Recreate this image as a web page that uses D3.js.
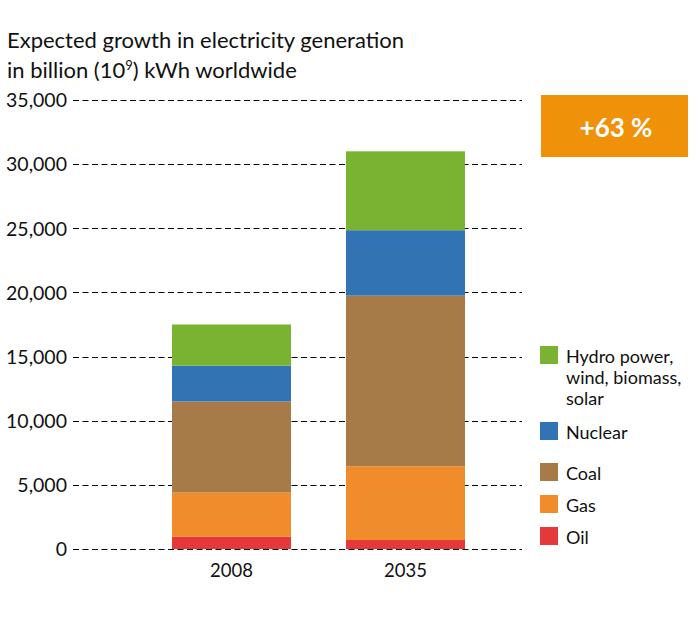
<!DOCTYPE html>
<html>
<head>
<meta charset="utf-8">
<script src="https://cdn.jsdelivr.net/npm/d3@7"></script>
<style>
  html, body { margin: 0; padding: 0; background: #fff; }
  svg { display: block; font-family: "Lato", "Open Sans", sans-serif; }
</style>
</head>
<body>
<svg id="chart" width="700" height="635"></svg>
<script>
// ---- data ----
const years = ["2008", "2035"];
const sources = ["Oil", "Gas", "Coal", "Nuclear", "Renewables"];
const oil        = [950, 700];
const gas        = [3450, 5750];
const coal       = [7100, 13300];
const nuclear    = [2800, 5100];
const renewables = [3200, 6150];
const yTicks = [0, 5000, 10000, 15000, 20000, 25000, 30000, 35000];
const legendLabels = [
  ["Hydro power,", "wind, biomass,", "solar"],
  ["Nuclear"],
  ["Coal"],
  ["Gas"],
  ["Oil"]
];
const colors = {
  Oil: "#E5383A",
  Gas: "#F08C2B",
  Coal: "#A67B48",
  Nuclear: "#3273B3",
  Renewables: "#7AB332"
};
const badgeText = "+63 %";

// ---- build table ----
const table = years.map((y, i) => ({
  year: y,
  Oil: oil[i], Gas: gas[i], Coal: coal[i], Nuclear: nuclear[i], Renewables: renewables[i]
}));
const stacked = d3.stack().keys(sources)(table);

const svg = d3.select("#chart");

// scales
const y = d3.scaleLinear().domain([0, 35000]).range([549, 100]);
const x = d3.scaleBand().domain(years).range([73, 564]).paddingInner(0.316).paddingOuter(0.569);

// title
const title = svg.append("text").attr("x", 7).attr("y", 48)
  .attr("font-size", 22).attr("fill", "#111");
title.append("tspan").text("Expected growth in electricity generation");
const t2 = svg.append("text").attr("x", 7).attr("y", 78)
  .attr("font-size", 22).attr("fill", "#111");
t2.append("tspan").text("in billion (10");
t2.append("tspan").text("9").attr("font-size", 13).attr("dy", -8);
t2.append("tspan").text(") kWh worldwide").attr("dy", 8);

// y axis labels
const yAxis = d3.axisLeft(y).tickValues(yTicks).tickSize(0).tickPadding(0)
  .tickFormat(d3.format(","));
const gAxis = svg.append("g").attr("transform", "translate(67,0)").call(yAxis);
gAxis.select(".domain").remove();
gAxis.selectAll("text").attr("font-size", 19.5).attr("fill", "#111")
  .attr("font-family", "Lato, sans-serif").attr("dy", "0.35em");

// grid lines
svg.append("g").selectAll("line").data(yTicks).join("line")
  .attr("x1", 73).attr("x2", 522)
  .attr("y1", d => Math.round(y(d)) + 0.5).attr("y2", d => Math.round(y(d)) + 0.5)
  .attr("stroke", "#000").attr("stroke-width", 1).attr("stroke-dasharray", "6,3.5");

// bars
svg.append("g").selectAll("g").data(stacked).join("g")
  .attr("fill", d => colors[d.key])
  .selectAll("rect").data(d => d).join("rect")
  .attr("x", d => x(d.data.year))
  .attr("width", x.bandwidth())
  .attr("y", d => y(d[1]))
  .attr("height", d => y(d[0]) - y(d[1]));

// x labels
const xAxis = d3.axisBottom(x).tickSize(0).tickPadding(0);
const gx = svg.append("g").attr("transform", "translate(0,577)").call(xAxis);
gx.select(".domain").remove();
gx.selectAll("text").attr("font-size", 18.5).attr("fill", "#111")
  .attr("font-family", "Lato, sans-serif").attr("dy", 0);

// legend
const legendKeys = ["Renewables", "Nuclear", "Coal", "Gas", "Oil"];
const legendY = [346, 422, 463, 495, 527];
const lg = svg.append("g");
legendKeys.forEach((k, i) => {
  lg.append("rect").attr("x", 540).attr("y", legendY[i]).attr("width", 18).attr("height", 18)
    .attr("fill", colors[k]);
  const t = lg.append("text").attr("x", 566).attr("y", legendY[i] + 16.5)
    .attr("font-size", 18).attr("fill", "#111");
  legendLabels[i].forEach((line, j) => {
    t.append("tspan").attr("x", 566).attr("dy", j === 0 ? 0 : 21).text(line);
  });
});

// badge
svg.append("rect").attr("x", 541).attr("y", 95).attr("width", 147).attr("height", 62)
  .attr("fill", "#EF9109");
svg.append("text").attr("x", 616).attr("y", 137).attr("text-anchor", "middle")
  .attr("font-size", 26).attr("font-weight", "bold").attr("fill", "#fff").text(badgeText);
</script>
</body>
</html>
